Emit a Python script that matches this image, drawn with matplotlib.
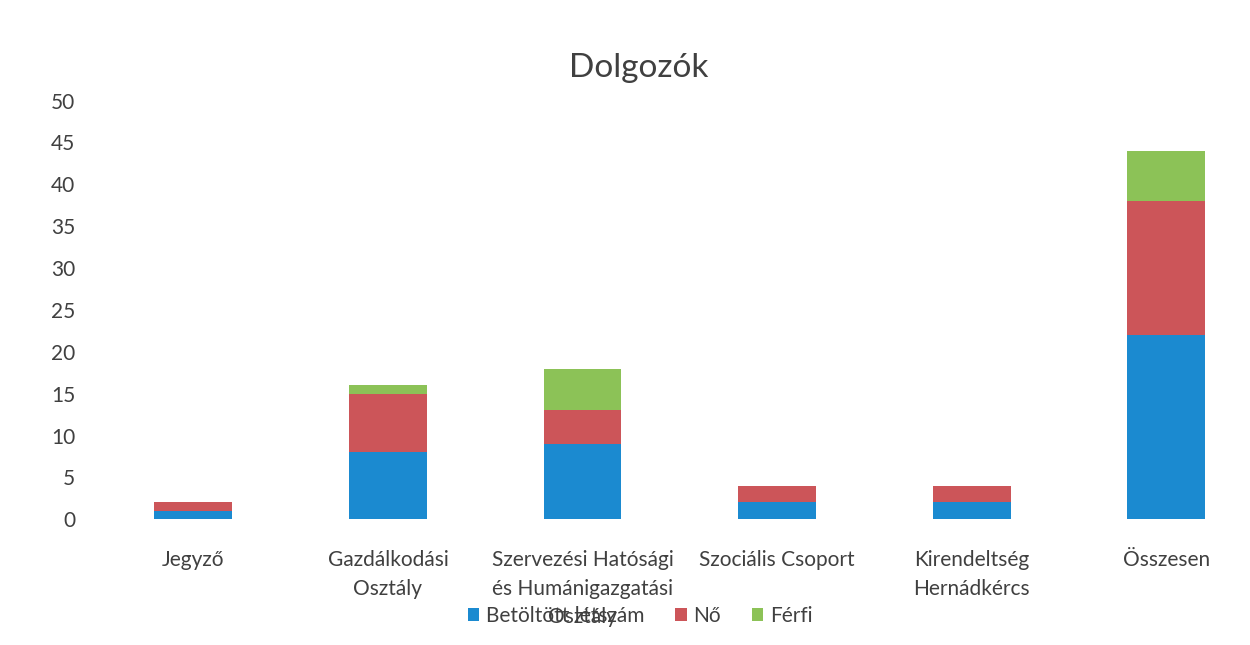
import matplotlib
matplotlib.use('Agg')
import matplotlib.pyplot as plt
import numpy as np

plt.rcParams['font.family'] = ['Lato', 'DejaVu Sans']

# adatok
kategoriak = ['Jegyző', 'Gazdálkodási\nOsztály', 'Szervezési Hatósági\nés Humánigazgatási\nOsztály',
              'Szociális Csoport', 'Kirendeltség\nHernádkércs', 'Összesen']
betoltott = [1, 8, 9, 2, 2, 22]
no = [1, 7, 4, 2, 2, 16]
ferfi = [0, 1, 5, 0, 0, 6]
sorozatok = ['Betöltött létszám', 'Nő', 'Férfi']
szinek = ['#1b8ad0', '#cc5559', '#8cc257']
szoveg = '#404040'

fig = plt.figure(figsize=(12.5, 6.45), dpi=100)
ax = fig.add_axes([0.0768, 0.195, 0.934, 0.649])

x = np.arange(len(kategoriak))
w = 0.40
ax.bar(x, betoltott, w, color=szinek[0], label=sorozatok[0])
ax.bar(x, no, w, bottom=betoltott, color=szinek[1], label=sorozatok[1])
also = np.array(betoltott) + np.array(no)
ax.bar(x, ferfi, w, bottom=also, color=szinek[2], label=sorozatok[2])

ax.set_xlim(-0.5, len(kategoriak) - 0.5)
ax.set_ylim(0, 50)
ax.set_yticks(range(0, 51, 5))
ax.set_xticks(x)
ax.set_xticklabels(kategoriak, linespacing=1.55)
ax.tick_params(axis='both', length=0, labelsize=15, colors=szoveg)
ax.tick_params(axis='y', pad=15)
ax.tick_params(axis='x', pad=22)
for s in ax.spines.values():
    s.set_visible(False)

fig.text(0.511, 1 - 68 / 645, 'Dolgozók', ha='center', va='center', fontsize=24, color=szoveg)

fig.legend(loc='center', bbox_to_anchor=(0.512, 1 - 616 / 645), ncol=3, frameon=False,
           handlelength=0.55, handleheight=0.55, handletextpad=0.3, columnspacing=1.5,
           fontsize=15, labelcolor=szoveg)

fig.savefig('out.png', dpi=100, facecolor='white')
